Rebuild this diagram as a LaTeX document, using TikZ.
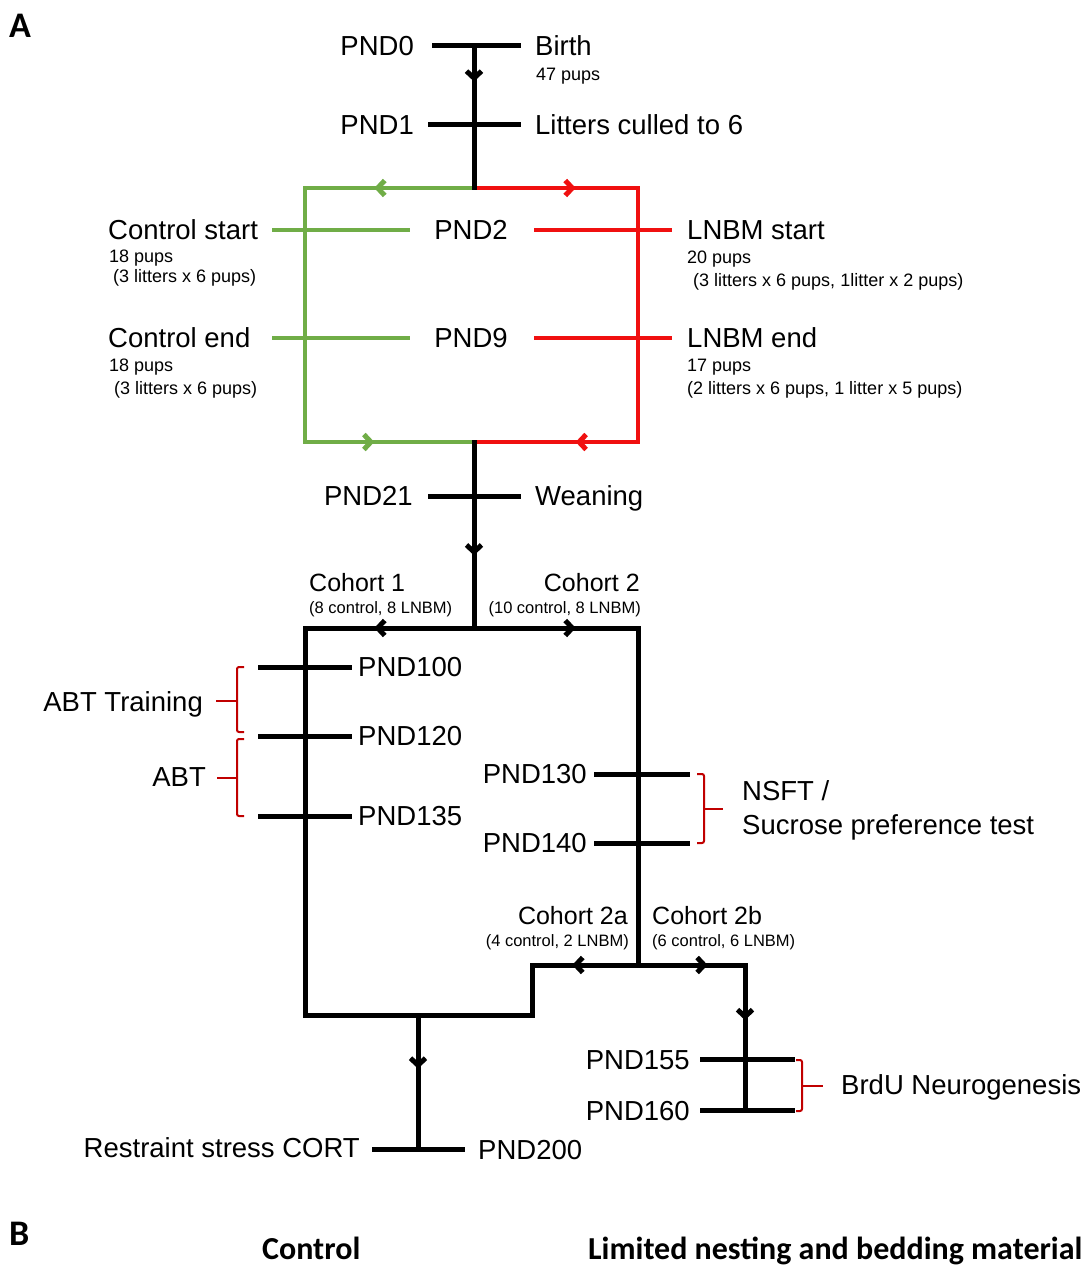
\documentclass[tikz,border=0pt]{standalone}
\usepackage{fontspec}
\setmainfont{Liberation Sans}
\newfontfamily\labfont{Carlito}
\usetikzlibrary{arrows.meta,decorations.markings}
\definecolor{cgreen}{RGB}{112,173,71}
\definecolor{cred}{RGB}{240,16,16}
\definecolor{cbrk}{RGB}{192,0,0}
\begin{document}
\begin{tikzpicture}[x=1pt,y=-1pt,
  big/.style={font=\fontsize{27.5}{30}\selectfont, inner sep=0pt, yshift=-9.85pt},
  med/.style={font=\fontsize{25}{28}\selectfont, inner sep=0pt, yshift=-8.95pt},
  sml/.style={font=\fontsize{18}{20}\selectfont, inner sep=0pt, yshift=-6.45pt},
  tiny/.style={font=\fontsize{16.5}{19}\selectfont, inner sep=0pt, yshift=-5.9pt},
  panel/.style={font=\labfont\bfseries\fontsize{36}{40}\selectfont, inner sep=0pt, anchor=base west},
  head/.style={font=\labfont\bfseries\fontsize{32}{34}\selectfont, inner sep=0pt, anchor=base west},
  blk/.style={line width=5pt, color=black, line cap=rect},
  gln/.style={line width=4.5pt, color=cgreen, line cap=rect},
  rln/.style={line width=4.5pt, color=cred, line cap=rect},
  tick/.style={line width=5pt, color=black},
  gtick/.style={line width=4.5pt, color=cgreen},
  rtick/.style={line width=4.5pt, color=cred},
  brk/.style={draw=cbrk, line width=2pt, rounded corners=2pt},
  midarr/.style={postaction={decorate,decoration={markings,
     mark=at position #1 with {\arrow{Straight Barb[length=7pt,width=15pt,line width=5pt]}}}}},
  midarr/.default=0.5]
\useasboundingbox (0,0) rectangle (1089,1265);

% ---------- coordinates ----------
\coordinate (c0) at (474,46);
\coordinate (c1) at (474,125);
\coordinate (s1) at (474,188);
\coordinate (gTL) at (305,188);
\coordinate (gBL) at (305,442);
\coordinate (j1) at (474,442);
\coordinate (rTR) at (638,188);
\coordinate (rBR) at (638,442);
\coordinate (c21) at (474,496);
\coordinate (s2) at (474,628);
\coordinate (L1) at (305,628);
\coordinate (R1) at (638,628);
\coordinate (LB) at (305,1015);
\coordinate (M) at (418,1015);
\coordinate (SB) at (532,1015);
\coordinate (ST) at (532,965);
\coordinate (s3) at (638,965);
\coordinate (R2) at (745,965);
\coordinate (R2b) at (745,1110);
\coordinate (c200) at (418,1149);

% tick end points
\coordinate (t0a) at (432,46);   \coordinate (t0b) at (521,46);
\coordinate (t1a) at (428,125);  \coordinate (t1b) at (521,125);
\coordinate (t21a) at (428,496); \coordinate (t21b) at (521,496);
\coordinate (g2a) at (272,230);  \coordinate (g2b) at (410,230);
\coordinate (g9a) at (272,338);  \coordinate (g9b) at (410,338);
\coordinate (r2a) at (534,230);  \coordinate (r2b) at (672,230);
\coordinate (r9a) at (534,338);  \coordinate (r9b) at (672,338);
\coordinate (t100a) at (258,667); \coordinate (t100b) at (352,667);
\coordinate (t120a) at (258,736); \coordinate (t120b) at (352,736);
\coordinate (t135a) at (258,816); \coordinate (t135b) at (352,816);
\coordinate (t130a) at (594,774); \coordinate (t130b) at (690,774);
\coordinate (t140a) at (594,843); \coordinate (t140b) at (690,843);
\coordinate (t155a) at (700,1059); \coordinate (t155b) at (795,1059);
\coordinate (t160a) at (700,1110); \coordinate (t160b) at (795,1110);
\coordinate (t200a) at (372,1149); \coordinate (t200b) at (465,1149);

% ---------- coloured box ----------
\draw[gln, midarr=0.59] (s1) -- (gTL);
\draw[gln] (gTL) -- (gBL);
\draw[gln, midarr=0.41] (gBL) -- (j1);
\draw[rln, midarr=0.62] (s1) -- (rTR);
\draw[rln] (rTR) -- (rBR);
\draw[rln, midarr=0.38] (rBR) -- (j1);
\draw[gtick] (g2a) -- (g2b);
\draw[gtick] (g9a) -- (g9b);
\draw[rtick] (r2a) -- (r2b);
\draw[rtick] (r9a) -- (r9b);

% ---------- black timeline ----------
\draw[blk, midarr=0.45] (c0) -- (c1);
\draw[blk] (c1) -- (s1);
\draw[blk] (j1) -- (c21);
\draw[blk, midarr=0.45] (c21) -- (s2);
\draw[blk, midarr=0.59] (s2) -- (L1);
\draw[blk, midarr=0.62] (s2) -- (R1);
\draw[blk] (L1) -- (LB);
\draw[blk] (LB) -- (SB);
\draw[blk] (SB) -- (ST);
\draw[blk, midarr=0.62] (s3) -- (ST);
\draw[blk] (R1) -- (s3);
\draw[blk, midarr=0.65] (s3) -- (R2);
\draw[blk, midarr=0.38] (R2) -- (R2b);
\draw[blk, midarr=0.40] (M) -- (c200);

\foreach \a/\b in {t0a/t0b,t1a/t1b,t21a/t21b,t100a/t100b,t120a/t120b,t135a/t135b,
  t130a/t130b,t140a/t140b,t155a/t155b,t160a/t160b,t200a/t200b}
  \draw[tick] (\a) -- (\b);

% ---------- brackets ----------
\draw[brk] (244,667) -- (237,667) -- (237,732) -- (244,732);
\draw[brk] (237,701) -- (216,701);
\draw[brk] (244,739) -- (237,739) -- (237,816) -- (244,816);
\draw[brk] (237,778) -- (217,778);
\draw[brk] (697,774) -- (704,774) -- (704,843) -- (697,843);
\draw[brk] (704,809) -- (723,809);
\draw[brk] (796,1060) -- (802,1060) -- (802,1111) -- (796,1111);
\draw[brk] (802,1086) -- (823,1086);

% ---------- texts ----------
\node[panel] (lA) at (9,38) {A};
\node[panel] (lB) at (9,1245) {B};

\node[big, anchor=base east] (n0) at (414,46) {PND0};
\node[big, anchor=base west] (birth) at (535,46) {Birth};
\node[sml, anchor=base west] (p47) at (536,74) {47 pups};
\node[big, anchor=base east] (n1) at (414,125) {PND1};
\node[big, anchor=base west] (cull) at (535,125) {Litters culled to 6};

\node[big, anchor=base] (n2) at (471,230) {PND2};
\node[big, anchor=base] (n9) at (471,338) {PND9};
\node[big, anchor=base west] (cs) at (108,230) {Control start};
\node[sml, anchor=base west] (cs1) at (109,256) {18 pups};
\node[sml, anchor=base west] (cs2) at (113,276) {(3 litters x 6 pups)};
\node[big, anchor=base west] (ce) at (108,338) {Control end};
\node[sml, anchor=base west] (ce1) at (109,365) {18 pups};
\node[sml, anchor=base west] (ce2) at (114,388) {(3 litters x 6 pups)};
\node[big, anchor=base west] (ls) at (687,230) {LNBM start};
\node[sml, anchor=base west] (ls1) at (687,257) {20 pups};
\node[sml, anchor=base west] (ls2) at (693,280) {(3 litters x 6 pups, 1litter x 2 pups)};
\node[big, anchor=base west] (le) at (687,338) {LNBM end};
\node[sml, anchor=base west] (le1) at (687,365) {17 pups};
\node[sml, anchor=base west] (le2) at (687,388) {(2 litters x 6 pups, 1 litter x 5 pups)};

\node[big, anchor=base east] (n21) at (413,496) {PND21};
\node[big, anchor=base west] (wean) at (535,496) {Weaning};

\node[med, anchor=base west] (co1) at (309,583) {Cohort 1};
\node[tiny, anchor=base west] (co1n) at (309,608) {(8 control, 8 LNBM)};
\node[med, anchor=base east] (co2) at (640,583) {Cohort 2};
\node[tiny, anchor=base east] (co2n) at (641,608) {(10 control, 8 LNBM)};

\node[big, anchor=base west] (n100) at (358,667) {PND100};
\node[big, anchor=base west] (n120) at (358,736) {PND120};
\node[big, anchor=base west] (n135) at (358,816) {PND135};
\node[big, anchor=base east] (abtt) at (203,702) {ABT Training};
\node[big, anchor=base east] (abt) at (206,777) {ABT};

\node[big, anchor=base east] (n130) at (587,774) {PND130};
\node[big, anchor=base east] (n140) at (587,843) {PND140};
\node[big, anchor=base west] (nsft) at (742,791) {NSFT /};
\node[big, anchor=base west] (sucr) at (742,825) {Sucrose preference test};

\node[med, anchor=base east] (co2a) at (628,916) {Cohort 2a};
\node[tiny, anchor=base east] (co2an) at (629,941) {(4 control, 2 LNBM)};
\node[med, anchor=base west] (co2b) at (652,916) {Cohort 2b};
\node[tiny, anchor=base west] (co2bn) at (652,941) {(6 control, 6 LNBM)};

\node[big, anchor=base east] (n155) at (690,1060) {PND155};
\node[big, anchor=base east] (n160) at (690,1111) {PND160};
\node[big, anchor=base west] (brdu) at (841,1085) {BrdU Neurogenesis};

\node[big, anchor=base east] (rst) at (360,1148) {Restraint stress CORT};
\node[big, anchor=base west] (n200) at (478,1150) {PND200};

\node[head] (hc) at (262,1259) {Control};
\node[head] (hl) at (588,1259) {Limited nesting and bedding material};
\end{tikzpicture}
\end{document}
